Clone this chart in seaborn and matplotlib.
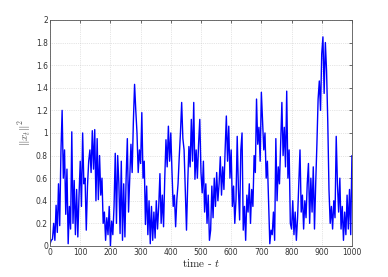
import numpy as np
import pandas as pd
import seaborn as sns
import matplotlib.pyplot as plt

# values, one every 4 time steps
seg0 = [0.02, 0.05, 0.06, 0.2, 0.05, 0.36, 0.12, 0.55, 0.18, 0.83, 1.2, 0.6, 0.85,
        0.28, 0.68, 0.02, 0.35, 0.15, 1.01, 0.2, 0.58, 0.1, 0.5, 0.08, 0.45]
seg1 = [0.75, 0.35, 1.0, 0.55, 0.6, 0.14, 0.53, 0.75, 0.85, 0.65, 1.02, 0.68, 1.03,
        0.4, 0.95, 0.41, 0.8, 0.45, 0.6, 0.2, 0.3, 0.05, 0.25, 0.1, 0.35]
seg2 = [0.0, 0.22, 0.1, 0.35, 0.82, 0.2, 0.8, 0.55, 0.11, 0.75, 0.05, 0.55, 0.08,
        0.6, 0.95, 0.3, 0.6, 0.9, 0.65, 1.1, 1.43, 1.2, 1.0, 0.65, 0.85]
seg3 = [0.73, 1.18, 0.6, 0.75, 0.19, 0.53, 0.1, 0.4, 0.02, 0.35, 0.05, 0.3, 0.07,
        0.4, 0.15, 0.35, 0.64, 0.2, 0.45, 0.17, 0.6, 0.94, 0.7, 1.06, 0.75]
seg4 = [1.0, 0.65, 0.35, 0.45, 0.17, 0.41, 0.55, 0.79, 1.0, 1.27, 0.95, 0.85, 0.5,
        0.14, 0.55, 0.88, 0.7, 1.12, 0.75, 1.27, 0.59, 0.85, 0.6, 0.9, 1.12]
seg5 = [0.65, 0.47, 0.75, 0.3, 0.55, 0.2, 0.45, 0.05, 0.14, 0.53, 0.25, 0.6, 0.35,
        0.65, 0.4, 0.55, 0.79, 0.45, 0.7, 0.5, 0.85, 1.15, 0.75, 1.06, 0.6]
seg6 = [0.85, 0.35, 0.53, 0.2, 0.41, 0.97, 0.5, 0.23, 0.85, 1.0, 0.14, 0.35, 0.05,
        0.45, 0.3, 0.55, 0.2, 0.5, 0.35, 0.8, 0.65, 1.3, 0.9, 1.05, 0.75]
seg7 = [1.36, 1.1, 0.85, 1.0, 0.6, 0.75, 0.38, 0.02, 0.14, 0.1, 0.3, 0.05, 0.95,
        0.4, 0.7, 0.55, 0.9, 1.27, 0.8, 1.05, 0.7, 1.37, 0.6, 0.85, 0.2]
seg8 = [0.15, 0.4, 0.1, 0.3, 0.05, 0.25, 0.55, 0.85, 0.3, 0.45, 0.15, 0.4, 0.25,
        0.55, 0.73, 0.2, 0.6, 0.3, 0.7, 0.15, 0.55, 0.9, 1.3, 1.46, 1.2]
seg9 = [1.7, 1.85, 1.35, 1.8, 1.55, 1.1, 0.5, 0.2, 0.35, 0.15, 0.4, 0.25, 0.97,
        0.55, 0.3, 0.6, 0.15, 0.35, 0.05, 0.3, 0.1, 0.45, 0.15, 0.5, 0.1, 0.8]

norm_sq = seg0 + seg1 + seg2 + seg3 + seg4 + seg5 + seg6 + seg7 + seg8 + seg9
time = np.arange(len(norm_sq)) * 4

xticks = [0, 100, 200, 300, 400, 500, 600, 700, 800, 900, 1000]
yticks = [0, 0.2, 0.4, 0.6, 0.8, 1, 1.2, 1.4, 1.6, 1.8, 2]
ytick_labels = ['0', '0.2', '0.4', '0.6', '0.8', '1', '1.2', '1.4', '1.6', '1.8', '2']

df = pd.DataFrame({'t': time, 'x': norm_sq})

sns.set_style('white')
plt.rcParams['font.family'] = ['DejaVu Sans']
plt.rcParams['mathtext.fontset'] = 'cm'

fig = plt.figure(figsize=(3.88, 2.77), dpi=100)
ax = fig.add_axes([0.129, 0.112, 0.778, 0.816])

sns.lineplot(data=df, x='t', y='x', color='#0000ff', linewidth=1.0, ax=ax)

ax.set_xlim(0, 1000)
ax.set_ylim(0, 2)
ax.set_xticks(xticks)
ax.set_yticks(yticks)
ax.set_yticklabels(ytick_labels)
ax.tick_params(direction='in', length=2.5, width=0.5, labelsize=5.5,
               colors='#333333', pad=1.5, top=True, right=True)
ax.grid(True, linestyle=':', linewidth=0.5, color='#cccccc')
for s in ax.spines.values():
    s.set_color('#555555')
    s.set_linewidth(0.6)

ax.set_xlabel('time - $t$', fontsize=8, labelpad=0, fontfamily='cmr10')
ax.set_ylabel(r'$\|x_t\|^2$', fontsize=8, labelpad=2, color='#555555')

fig.savefig('out.png', dpi=100)
